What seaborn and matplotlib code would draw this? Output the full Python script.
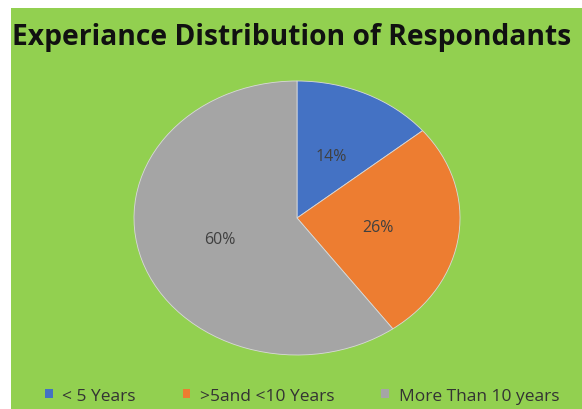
import matplotlib
matplotlib.use('Agg')
import matplotlib.pyplot as plt
from matplotlib.patches import Rectangle
import seaborn as sns

categories = ['< 5 Years', '>5and <10 Years', 'More Than 10 years']
shares = [14, 26, 60]
colors = ['#4472C4', '#ED7D31', '#A5A5A5']

sns.set_style('white')
plt.rcParams['font.family'] = ['Open Sans', 'DejaVu Sans']

fig = plt.figure(figsize=(5.82, 4.10), dpi=100, facecolor='white')
W, H = 582, 410
fig.patches.append(Rectangle((11 / W, 0), 1 - 11 / W, 1 - 9 / H,
                             transform=fig.transFigure, facecolor='#92D050',
                             edgecolor='none', zorder=-10))

ax = fig.add_axes([134 / W, (H - 356) / H, 326 / W, 274 / H])
wedges, texts, autotexts = ax.pie(
    shares, colors=sns.color_palette(colors), startangle=90, counterclock=False,
    autopct='%1.0f%%', pctdistance=0.5,
    wedgeprops=dict(edgecolor='#d9d9d9', linewidth=0.6),
    textprops=dict(color='#404040', fontsize=11.5))
ax.set_aspect('auto')
ax.set_xlim(-1, 1)
ax.set_ylim(-1, 1)
ax.set_facecolor('none')
ax.axis('off')

fig.text(292 / W, 1 - 38 / H, 'Experiance Distribution of Respondants',
         ha='center', va='center', fontsize=20.3, fontweight='bold', color='#111111')

leg = fig.legend(wedges, categories, loc='center', bbox_to_anchor=(302 / W, 1 - 397 / H),
                 ncol=3, frameon=False, fontsize=12.5, handlelength=0.45, handleheight=0.45,
                 handletextpad=0.55, columnspacing=2.7, labelcolor='#333333')
for h in leg.legend_handles:
    h.set_edgecolor('none')

fig.savefig('out.png', dpi=100, facecolor='white')
